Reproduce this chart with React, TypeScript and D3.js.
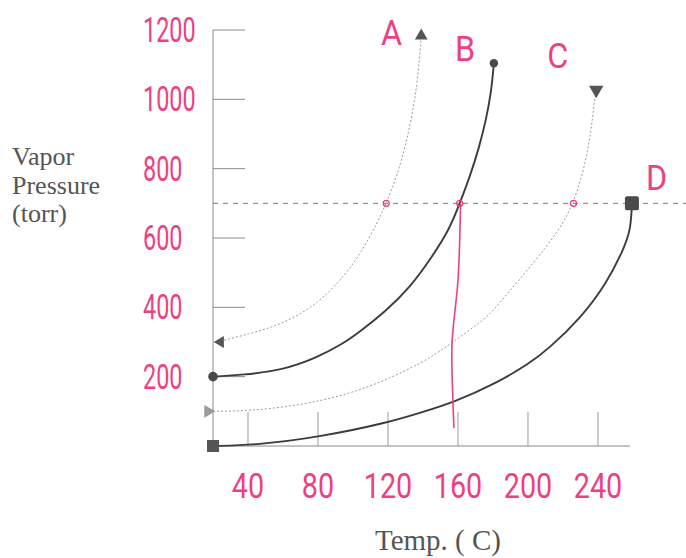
import React from "react";
import * as d3 from "d3";

// Vapor pressure curves for four liquids (temperature in °C, pressure in torr)
const tempsA = [22, 40, 60, 80, 95, 105, 114, 119, 125, 130, 134, 137, 139];
const pressA = [300, 322, 352, 410, 490, 560, 645, 700, 777, 865, 960, 1055, 1180];

const tempsB = [20, 37, 60, 79, 94, 104, 119, 133, 144, 155, 161, 167, 172, 176, 179, 180.5];
const pressB = [200, 205, 219, 254, 294, 330, 390, 460, 537, 623, 700, 780, 860, 940, 1020, 1104];

const tempsC = [20, 41, 70, 93, 112, 131, 144, 156, 176, 182, 203, 218, 226, 232, 236, 238, 239];
const pressC = [100, 101, 118, 144, 176, 219, 254, 296, 368, 402, 527, 623, 700, 797, 902, 999, 1030];

const tempsD = [20, 45, 80, 120, 141, 157, 182, 201, 211, 230, 245, 254.5, 258.7, 259.4];
const pressD = [0, 3, 25, 67, 100, 125, 181, 239, 277, 368, 470, 566, 623, 700];

// Axis ticks and their hand-written labels
const yTicks = [200, 400, 600, 800, 1000, 1200];
const yTickLabels = ["200", "400", "600", "800", "1000", "1200"];
const xTicks = [40, 80, 120, 160, 200, 240];
const xTickLabels = ["40", "80", "120", "160", "200", "240"];

// Reference pressure and where the curves reach it
const refPressure = 700;
const boilingTemps = [119, 161, 226];

// Hand-drawn vertical guide down from curve B at the reference pressure
const guideTemps = [161.5, 160, 156.6, 157.1, 157.7];
const guidePress = [700, 478, 297, 133, 52];

// Curve letters (anchored in data units)
const curveNames = ["A", "B", "C", "D"];
const nameTemps = [122, 164, 217, 273.5];
const namePress = [1195, 1148, 1128, 776];

const W = 686;
const H = 558;
const PINK = "#ee3f80";
const INK = "#3c3c3c";
const LIGHT = "#9a9a9a";
const HAND = "Roboto, 'DejaVu Sans', sans-serif";

const x = d3.scaleLinear().domain([20, 258.3]).range([213, 630]);
const y = d3.scaleLinear().domain([0, 1200]).range([446, 30]);

const zip = (t: number[], p: number[]) => t.map((v, i) => [v, p[i]] as [number, number]);

const line = d3
  .line<[number, number]>()
  .x((d) => x(d[0]))
  .y((d) => y(d[1]))
  .curve(d3.curveBasis);

const guideLine = d3
  .line<[number, number]>()
  .x((d) => x(d[0]))
  .y((d) => y(d[1]))
  .curve(d3.curveCatmullRom);

function tri(cx: number, cy: number, size: number, rot: number, fill: string) {
  const path = d3.symbol().type(d3.symbolTriangle).size(size)() as string;
  return <path d={path} transform={`translate(${cx},${cy}) rotate(${rot})`} fill={fill} />;
}

function Hand(props: {
  x: number;
  y: number;
  sx: number;
  sy: number;
  size: number;
  anchor?: string;
  children: React.ReactNode;
}) {
  return (
    <text
      transform={`translate(${props.x},${props.y}) scale(${props.sx},${props.sy})`}
      textAnchor={props.anchor || "start"}
      fill={PINK}
      fontFamily={HAND}
      fontSize={props.size}
    >
      {props.children}
    </text>
  );
}

export default function App() {
  const a = zip(tempsA, pressA);
  const b = zip(tempsB, pressB);
  const c = zip(tempsC, pressC);
  const dd = zip(tempsD, pressD);
  const guide = zip(guideTemps, guidePress);

  const aS = a[0], aE = a[a.length - 1];
  const bS = b[0], bE = b[b.length - 1];
  const cS = c[0], cE = c[c.length - 1];
  const dS = dd[0], dE = dd[dd.length - 1];

  return (
    <svg
      width={W}
      height={H}
      style={{ position: "absolute", left: 0, top: 0, background: "#fff" }}
    >
      {/* axes */}
      <line x1={x(20)} x2={x(20)} y1={y(1200)} y2={y(0)} stroke="#8a8a8a" strokeWidth={1} />
      <line x1={x(20)} x2={x(258.3)} y1={y(0)} y2={y(0)} stroke="#8a8a8a" strokeWidth={1} />
      {yTicks.map((t) => (
        <line key={"yt" + t} x1={x(20)} x2={x(20) + 32} y1={y(t)} y2={y(t)} stroke="#8a8a8a" strokeWidth={1} />
      ))}
      {xTicks.map((t) => (
        <line key={"xt" + t} x1={x(t)} x2={x(t)} y1={y(0)} y2={y(0) - 34} stroke="#9a9a9a" strokeWidth={1} />
      ))}

      {/* reference pressure line */}
      <line
        x1={x(20)}
        x2={W}
        y1={y(refPressure)}
        y2={y(refPressure)}
        stroke="#7a7a7a"
        strokeWidth={1}
        strokeDasharray="5,5"
      />

      {/* curves */}
      <path d={line(a) as string} fill="none" stroke={LIGHT} strokeWidth={1} strokeDasharray="2,2" />
      <path d={line(c) as string} fill="none" stroke={LIGHT} strokeWidth={1} strokeDasharray="2,2" />
      <path d={line(b) as string} fill="none" stroke={INK} strokeWidth={1.9} />
      <path d={line(dd) as string} fill="none" stroke={INK} strokeWidth={1.9} />

      {/* end markers */}
      {tri(x(aS[0]) + 4, y(aS[1]), 60, -90, "#555")}
      {tri(x(aE[0]), y(aE[1]) - 1, 70, 0, "#555")}
      <circle cx={x(bS[0])} cy={y(bS[1])} r={4.8} fill="#4a4a4a" />
      <circle cx={x(bE[0])} cy={y(bE[1])} r={4.2} fill="#4a4a4a" />
      {tri(x(cS[0]) - 5, y(cS[1]), 70, 90, "#9a9a9a")}
      {tri(x(cE[0]), y(cE[1]) + 1, 90, 180, "#555")}
      <rect x={x(dS[0]) - 6} y={y(dS[1]) - 6} width={12} height={12} fill="#555" />
      <rect x={x(dE[0]) - 7} y={y(dE[1]) - 7} width={14} height={14} rx={2} fill="#4a4a4a" />

      {/* annotations */}
      <path d={guideLine(guide) as string} fill="none" stroke={PINK} strokeWidth={1.6} />
      {boilingTemps.map((t) => (
        <circle key={"bp" + t} cx={x(t)} cy={y(refPressure)} r={3} fill="none" stroke={PINK} strokeWidth={1.3} />
      ))}

      {yTicks.map((t, i) => (
        <Hand key={"yl" + t} x={143} y={y(t) + 12} sx={0.78} sy={1.18} size={30}>
          {yTickLabels[i]}
        </Hand>
      ))}
      {xTicks.map((t, i) => (
        <Hand key={"xl" + t} x={x(t)} y={498} sx={0.9} sy={1.12} size={32} anchor="middle">
          {xTickLabels[i]}
        </Hand>
      ))}
      {curveNames.map((n, i) => (
        <Hand key={n} x={x(nameTemps[i])} y={y(namePress[i]) + 13} sx={0.95} sy={1.05} size={34} anchor="middle">
          {n}
        </Hand>
      ))}

      {/* axis titles */}
      <g fill="#555" fontFamily="'Liberation Serif', serif" fontSize={26}>
        <text x={12} y={165}>Vapor</text>
        <text x={12} y={194}>Pressure</text>
        <text x={12} y={222}>(torr)</text>
        <text x={438} y={550} fontSize={29} textAnchor="middle">Temp. (   C)</text>
      </g>
    </svg>
  );
}
